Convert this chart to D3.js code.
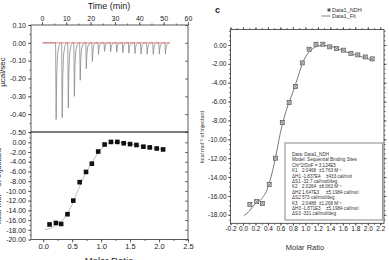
<!DOCTYPE html>
<html>
<head>
<meta charset="utf-8">
<script src="https://cdn.jsdelivr.net/npm/d3@7"></script>
<style>
  body { margin: 0; background: #fff; }
  svg { display: block; font-family: "Liberation Sans", Arial, sans-serif; }
  .tick text { fill: #222; }
  .tick line { stroke: #333; stroke-width: 0.7; }
</style>
</head>
<body>
<script>
// raw thermogram: injection times (min) and peak depth (ucal/sec)
var injTime = [5.7, 8.2, 10.7, 13.2, 15.6, 18.1, 20.6, 23.1, 25.6, 28.1, 30.6, 33.1, 35.6, 38.1, 40.6, 43.1, 45.6, 48.1, 50.6];
var injPeak = [-0.43, -0.42, -0.365, -0.30, -0.21, -0.145, -0.105, -0.065, -0.048, -0.05, -0.053, -0.055, -0.058, -0.06, -0.062, -0.064, -0.064, -0.063, -0.063];
var runStart = 0.3, runEnd = 52.5;

// integrated heats
var ratio = [0.11, 0.22, 0.31, 0.42, 0.52, 0.63, 0.74, 0.84, 0.95, 1.06, 1.17, 1.28, 1.39, 1.50, 1.61, 1.73, 1.84, 1.96, 2.07];
var heat  = [-16.9, -16.6, -16.8, -14.8, -12.0, -8.2, -6.1, -4.4, -1.9, -0.45, 0.08, 0.08, -0.2, -0.37, -0.55, -0.9, -1.05, -1.27, -1.47];

// fit curves
var fitLeftX  = [0.03, 0.1, 0.2, 0.3, 0.4, 0.5, 0.6, 0.7, 0.8, 0.9, 1.0, 1.1, 1.2, 1.3, 1.4, 1.5, 1.6, 1.7, 1.8, 1.9, 2.0, 2.1];
var fitLeftY  = [-18.0, -17.8, -17.2, -16.4, -15.0, -12.8, -9.9, -7.2, -5.0, -3.0, -1.4, -0.4, 0.0, 0.02, -0.15, -0.35, -0.55, -0.8, -1.0, -1.2, -1.35, -1.55];
var fitRightX = [0.015, 0.1, 0.2, 0.3, 0.4, 0.5, 0.6, 0.7, 0.8, 0.9, 0.95, 1.0, 1.1, 1.2, 1.3, 1.4, 1.5, 1.6, 1.7, 1.8, 1.9, 2.0, 2.08];
var fitRightY = [-18.1, -17.6, -16.8, -16.3, -15.1, -12.6, -9.3, -6.8, -5.0, -3.0, -2.0, -1.3, -0.5, -0.12, -0.05, -0.15, -0.35, -0.6, -0.85, -1.05, -1.25, -1.45, -1.7];

// tick labels
var timeTicks = [0, 10, 20, 30, 40, 50, 60];
var rawTicks = [0.1, 0, -0.1, -0.2, -0.3, -0.4, -0.5];
var ratioTicksL = [0, 0.5, 1.0, 1.5, 2.0, 2.5];
var heatTicksL = [0, -2, -4, -6, -8, -10, -12, -14, -16, -18, -20];
var ratioTicksR = [-0.2, 0, 0.2, 0.4, 0.6, 0.8, 1.0, 1.2, 1.4, 1.6, 1.8, 2.0, 2.2];
var heatTicksR = [0, -2, -4, -6, -8, -10, -12, -14, -16, -18];

var fitText = [
  ["Data: Data1_NDH"],
  ["Model: Sequential Binding Sites"],
  ["Chi^2/DoF = 3.124E5"],
  ["K1", "2.0468", "\u00b13.763 M\u207b\u00b9"],
  ["\u0394H1", "-1.837E4", "\u00b1433 cal/mol"],
  ["\u0394S1", "-32.7 cal/mol/deg"],
  ["K2", "2.0264", "\u00b18.063 M\u207b\u00b9"],
  ["\u0394H2", "1.647E3", "\u00b15.1984 cal/mol"],
  ["\u0394S2", "573 cal/mol/deg"],
  ["K3", "2.0488", "\u00b11.268 M\u207b\u00b9"],
  ["\u0394H3", "-1.871E3", "\u00b15.1984 cal/mol"],
  ["\u0394S3", "-331 cal/mol/deg"]
];

var width = 389, height = 260;
var svg = d3.select("body").append("svg")
    .attr("width", width)
    .attr("height", height);

var f2 = function(d) { return d.toFixed(2); };
var f1 = function(d) { return d.toFixed(1); };

// ---------- left panels ----------
var xTime = d3.scaleLinear().domain([-4.5, 60]).range([31, 188]);
var yRaw = d3.scaleLinear().domain([-0.5, 0.1]).range([132, 25]);
var xRatioL = d3.scaleLinear().domain([-0.21, 2.5]).range([31, 188]);
var yHeatL = d3.scaleLinear().domain([-20, 2.12]).range([239.5, 132]);

function minor(axis, vals) {
  return axis.tickValues(vals).tickSize(1.5).tickFormat("");
}

// raw panel axes
svg.append("g").attr("transform", "translate(0,25)")
  .call(minor(d3.axisTop(xTime), d3.range(-0, 61, 5)));
svg.append("g").attr("transform", "translate(0,25)")
  .call(d3.axisTop(xTime).tickValues(timeTicks).tickSize(3).tickPadding(1.5))
  .selectAll("text").style("font-size", "7px");
svg.append("g").attr("transform", "translate(31,0)")
  .call(minor(d3.axisLeft(yRaw), d3.range(-0.5, 0.11, 0.05)));
svg.append("g").attr("transform", "translate(31,0)")
  .call(d3.axisLeft(yRaw).tickValues(rawTicks).tickSize(3).tickPadding(2).tickFormat(f2))
  .selectAll("text").style("font-size", "7px");
svg.append("g").attr("transform", "translate(188,0)")
  .call(d3.axisLeft(yRaw).tickValues(rawTicks).tickSize(3).tickFormat(""));

// heat panel axes
svg.append("g").attr("transform", "translate(0,239.5)")
  .call(minor(d3.axisBottom(xRatioL), d3.range(0, 2.51, 0.25)));
svg.append("g").attr("transform", "translate(0,239.5)")
  .call(d3.axisBottom(xRatioL).tickValues(ratioTicksL).tickSize(3).tickPadding(1.5).tickFormat(f1))
  .selectAll("text").style("font-size", "7.5px");
svg.append("g").attr("transform", "translate(31,0)")
  .call(minor(d3.axisLeft(yHeatL), d3.range(-20, 2.1, 1)));
svg.append("g").attr("transform", "translate(31,0)")
  .call(d3.axisLeft(yHeatL).tickValues(heatTicksL).tickSize(3).tickPadding(2).tickFormat(f2))
  .selectAll("text").style("font-size", "7px");
svg.append("g").attr("transform", "translate(188,0)")
  .call(d3.axisLeft(yHeatL).tickValues(heatTicksL).tickSize(3).tickFormat(""));

svg.selectAll(".domain").remove();

svg.append("rect").attr("x", 31).attr("y", 25).attr("width", 157).attr("height", 107)
  .attr("fill", "none").attr("stroke", "#333").attr("stroke-width", 0.8);
svg.append("rect").attr("x", 31).attr("y", 132).attr("width", 157).attr("height", 107.5)
  .attr("fill", "none").attr("stroke", "#333").attr("stroke-width", 0.8);

// thermogram trace
var trace = [[runStart, 0]];
injTime.forEach(function(t, i) {
  var p = injPeak[i];
  trace.push([t - 0.1, 0], [t + 0.12, p], [t + 0.35, p * 0.45], [t + 0.7, p * 0.15], [t + 1.3, p * 0.03], [t + 2.0, 0]);
});
trace.push([runEnd, 0]);

var rawLine = d3.line().x(function(d) { return xTime(d[0]); }).y(function(d) { return yRaw(d[1]); });
svg.append("path").datum(trace).attr("d", rawLine)
  .attr("fill", "none").attr("stroke", "#8a8a8a").attr("stroke-width", 0.8);
svg.append("path").datum([[runStart, 0], [runEnd, 0]]).attr("d", rawLine)
  .attr("fill", "none").attr("stroke", "#e06a6a").attr("stroke-width", 0.8);

// fit + points lower-left
var fitL = fitLeftX.map(function(x, i) { return [x, fitLeftY[i]]; });
svg.append("path").datum(fitL)
  .attr("d", d3.line().curve(d3.curveMonotoneX)
    .x(function(d) { return xRatioL(d[0]); }).y(function(d) { return yHeatL(d[1]); }))
  .attr("fill", "none").attr("stroke", "#aaa").attr("stroke-width", 0.8);

svg.append("g").selectAll("rect").data(ratio).enter().append("rect")
  .attr("x", function(d) { return xRatioL(d) - 2.3; })
  .attr("y", function(d, i) { return yHeatL(heat[i]) - 2.3; })
  .attr("width", 4.6).attr("height", 4.6).attr("fill", "#111");

// titles left
svg.append("text").attr("x", 109).attr("y", 9).attr("text-anchor", "middle")
  .style("font-size", "9px").attr("fill", "#222").text("Time (min)");
svg.append("text").attr("transform", "translate(5,72) rotate(-90)").attr("text-anchor", "middle")
  .style("font-size", "8px").attr("fill", "#222").text("\u00b5cal/sec");
svg.append("text").attr("transform", "translate(1,186) rotate(-90)").attr("text-anchor", "middle")
  .style("font-size", "8px").attr("fill", "#222").text("kcal mol\u207b\u00b9 of injectant");
svg.append("text").attr("x", 109).attr("y", 264).attr("text-anchor", "middle")
  .style("font-size", "9.5px").attr("fill", "#222").text("Molar Ratio");

// ---------- right panel ----------
var rx0 = 230.5, rx1 = 384, ry0 = 29.5, ry1 = 223.3;
var xR = d3.scaleLinear().domain([-0.2, 2.26]).range([rx0, rx1]);
var yR = d3.scaleLinear().domain([-18.9, 1.64]).range([ry1, ry0]);

var minorX = d3.range(-0.2, 2.21, 0.1), minorY = d3.range(-18.5, 1.6, 0.5);
var gR = svg.append("g");
gR.append("g").attr("transform", "translate(0," + ry1 + ")").call(minor(d3.axisBottom(xR), minorX));
gR.append("g").attr("transform", "translate(0," + ry0 + ")").call(minor(d3.axisTop(xR), minorX));
gR.append("g").attr("transform", "translate(" + rx0 + ",0)").call(minor(d3.axisLeft(yR), minorY));
gR.append("g").attr("transform", "translate(" + rx1 + ",0)").call(minor(d3.axisRight(yR), minorY));
gR.append("g").attr("transform", "translate(0," + ry1 + ")")
  .call(d3.axisBottom(xR).tickValues(ratioTicksR).tickSize(2.5).tickPadding(0.8).tickFormat(f1))
  .selectAll("text").style("font-size", "6.5px");
gR.append("g").attr("transform", "translate(0," + ry0 + ")")
  .call(d3.axisTop(xR).tickValues(ratioTicksR).tickSize(2.5).tickFormat(""));
gR.append("g").attr("transform", "translate(" + rx0 + ",0)")
  .call(d3.axisLeft(yR).tickValues(heatTicksR).tickSize(2.5).tickPadding(1.5).tickFormat(f2))
  .selectAll("text").style("font-size", "6.5px");
gR.append("g").attr("transform", "translate(" + rx1 + ",0)")
  .call(d3.axisRight(yR).tickValues(heatTicksR).tickSize(2.5).tickFormat(""));
gR.selectAll(".domain").remove();

svg.append("rect").attr("x", rx0).attr("y", ry0).attr("width", rx1 - rx0).attr("height", ry1 - ry0)
  .attr("fill", "none").attr("stroke", "#333").attr("stroke-width", 0.8);

var fitR = fitRightX.map(function(x, i) { return [x, fitRightY[i]]; });
svg.append("path").datum(fitR)
  .attr("d", d3.line().curve(d3.curveMonotoneX)
    .x(function(d) { return xR(d[0]); }).y(function(d) { return yR(d[1]); }))
  .attr("fill", "none").attr("stroke", "#555").attr("stroke-width", 0.8);

var pts = svg.append("g").selectAll("g").data(ratio).enter().append("g")
  .attr("transform", function(d, i) { return "translate(" + xR(d) + "," + yR(heat[i]) + ")"; });
pts.append("rect").attr("x", -2).attr("y", -2).attr("width", 4).attr("height", 4)
  .attr("fill", "#ddd").attr("stroke", "#555").attr("stroke-width", 0.7);
pts.append("path").attr("d", "M-2,-2L2,2M-2,2L2,-2").attr("stroke", "#555").attr("stroke-width", 0.6);

// annotation box
svg.append("rect").attr("x", 285).attr("y", 143).attr("width", 97.5).attr("height", 77)
  .attr("fill", "#fff").attr("stroke", "#999").attr("stroke-width", 1.2);
fitText.forEach(function(row, i) {
  var xs = row.length === 1 ? [292] : (row.length === 2 ? [292, 302] : [292, 302, row[0][0] === "K" ? 319 : 326]);
  row.forEach(function(s, j) {
    svg.append("text").attr("x", xs[j]).attr("y", 156 + i * 5.4)
      .style("font-size", "4.6px").attr("fill", "#333").text(s);
  });
});

// legend
svg.append("rect").attr("x", 327.5).attr("y", 8.5).attr("width", 3).attr("height", 3).attr("fill", "#555");
svg.append("text").attr("x", 332).attr("y", 12).style("font-size", "5.5px").attr("fill", "#333").text("Data1_NDH");
svg.append("line").attr("x1", 321.5).attr("x2", 330.5).attr("y1", 16).attr("y2", 16)
  .attr("stroke", "#555").attr("stroke-width", 0.7);
svg.append("text").attr("x", 332).attr("y", 18).style("font-size", "5.5px").attr("fill", "#333").text("Data1_Fit");

svg.append("text").attr("x", 215).attr("y", 13).style("font-size", "9px").style("font-weight", "bold")
  .attr("fill", "#222").text("c");

// right titles
svg.append("text").attr("transform", "translate(204,137) rotate(-90)").attr("text-anchor", "middle")
  .style("font-size", "5.5px").attr("fill", "#333").text("kcal mol\u207b\u00b9 of injectant");
svg.append("text").attr("x", 305).attr("y", 249.5).attr("text-anchor", "middle")
  .style("font-size", "7.5px").attr("fill", "#333").text("Molar Ratio");
</script>
</body>
</html>
